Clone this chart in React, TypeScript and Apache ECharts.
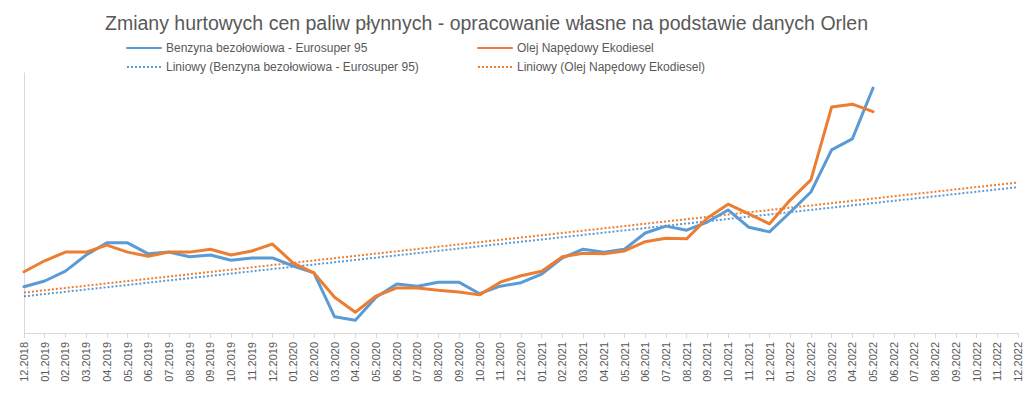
import React, { useEffect, useRef } from "react";
import * as echarts from "echarts";

const categories = [
  "12.2018", "01.2019", "02.2019", "03.2019", "04.2019", "05.2019", "06.2019", "07.2019",
  "08.2019", "09.2019", "10.2019", "11.2019", "12.2019", "01.2020", "02.2020", "03.2020",
  "04.2020", "05.2020", "06.2020", "07.2020", "08.2020", "09.2020", "10.2020", "11.2020",
  "12.2020", "01.2021", "02.2021", "03.2021", "04.2021", "05.2021", "06.2021", "07.2021",
  "08.2021", "09.2021", "10.2021", "11.2021", "12.2021", "01.2022", "02.2022", "03.2022",
  "04.2022", "05.2022", "06.2022", "07.2022", "08.2022", "09.2022", "10.2022", "11.2022",
  "12.2022",
];

const benzyna = [
  3300, 3400, 3570, 3850, 4060, 4060, 3870, 3900, 3820, 3850, 3760, 3800, 3800, 3660,
  3540, 2780, 2720, 3120, 3350, 3310, 3380, 3380, 3180, 3310, 3370, 3520, 3800, 3950,
  3900, 3950, 4230, 4350, 4280, 4420, 4630, 4330, 4250, 4590, 4940, 5670, 5860, 6740,
];

const olej = [
  3560, 3750, 3900, 3900, 4020, 3900, 3830, 3900, 3900, 3950, 3850, 3920, 4040, 3710,
  3540, 3120, 2860, 3140, 3280, 3280, 3240, 3210, 3160, 3380, 3490, 3570, 3820, 3880,
  3870, 3920, 4080, 4140, 4130, 4490, 4730, 4560, 4390, 4800, 5150, 6410, 6460, 6330,
];

const seriesNames = [
  "Benzyna bezołowiowa - Eurosuper 95",
  "Olej Napędowy Ekodiesel",
  "Liniowy (Benzyna bezołowiowa - Eurosuper 95)",
  "Liniowy (Olej Napędowy Ekodiesel)",
];

const titleText =
  "Zmiany hurtowych cen paliw płynnych - opracowanie własne na podstawie danych Orlen";

// Linear (least squares) trendline as Excel computes it, over all category positions
function linearTrend(values: number[], length: number): number[] {
  const n = values.length;
  let sx = 0, sy = 0, sxx = 0, sxy = 0;
  values.forEach((v, i) => {
    sx += i; sy += v; sxx += i * i; sxy += i * v;
  });
  const slope = (n * sxy - sx * sy) / (n * sxx - sx * sx);
  const intercept = (sy - slope * sx) / n;
  return Array.from({ length }, (_, i) => +(intercept + slope * i).toFixed(2));
}

const BLUE = "#5B9BD5";
const ORANGE = "#ED7D31";
const TEXT = "#595959";
const AXIS = "#D9D9D9";
const FONT = "'Liberation Sans', Arial, sans-serif";

export default function App() {
  const ref = useRef<HTMLDivElement>(null);

  useEffect(() => {
    if (!ref.current) return;
    const chart = echarts.init(ref.current, undefined, { renderer: "svg" });
    const trendB = linearTrend(benzyna, categories.length);
    const trendO = linearTrend(olej, categories.length);

    const legendBase = {
      orient: "horizontal" as const,
      itemWidth: 34,
      itemHeight: 12,
      itemStyle: { color: "rgba(0,0,0,0)", borderWidth: 0, borderColor: "rgba(0,0,0,0)" },
      textStyle: { color: TEXT, fontSize: 12, fontFamily: FONT },
    };

    chart.setOption({
      animation: false,
      backgroundColor: "#ffffff",
      title: {
        text: titleText,
        left: 100,
        top: 8,
        textStyle: { color: TEXT, fontSize: 19.5, fontWeight: "normal", fontFamily: FONT },
      },
      legend: [
        { ...legendBase, data: [seriesNames[0]], left: 121, top: 37 },
        { ...legendBase, data: [seriesNames[1]], left: 472, top: 37 },
        { ...legendBase, data: [seriesNames[2]], left: 121, top: 56 },
        { ...legendBase, data: [seriesNames[3]], left: 472, top: 56 },
      ],
      grid: { left: 24, right: 15, top: 73, bottom: 65, containLabel: false },
      xAxis: {
        type: "category",
        data: categories,
        boundaryGap: false,
        axisLine: { lineStyle: { color: AXIS, width: 1 } },
        axisTick: { show: true, length: 5, lineStyle: { color: AXIS } },
        axisLabel: {
          rotate: 90,
          interval: 0,
          margin: 9,
          color: TEXT,
          fontSize: 11,
          fontFamily: FONT,
        },
      },
      yAxis: {
        type: "value",
        min: 2500,
        max: 7000,
        axisLine: { show: true, lineStyle: { color: AXIS, width: 1 } },
        axisTick: { show: false },
        axisLabel: { show: false },
        splitLine: { show: false },
      },
      series: [
        {
          name: seriesNames[2],
          type: "line",
          data: trendB,
          symbol: "none",
          lineStyle: { color: BLUE, width: 2, type: "dotted" },
          itemStyle: { color: BLUE },
          z: 1,
        },
        {
          name: seriesNames[3],
          type: "line",
          data: trendO,
          symbol: "none",
          lineStyle: { color: ORANGE, width: 2, type: "dotted" },
          itemStyle: { color: ORANGE },
          z: 1,
        },
        {
          name: seriesNames[0],
          type: "line",
          data: benzyna,
          symbol: "none",
          lineStyle: { color: BLUE, width: 3, join: "round", cap: "round" },
          itemStyle: { color: BLUE },
          z: 3,
        },
        {
          name: seriesNames[1],
          type: "line",
          data: olej,
          symbol: "none",
          lineStyle: { color: ORANGE, width: 3, join: "round", cap: "round" },
          itemStyle: { color: ORANGE },
          z: 3,
        },
      ],
    });

    return () => chart.dispose();
  }, []);

  return (
    <div
      ref={ref}
      style={{ position: "fixed", left: 0, top: 0, width: 1033, height: 398, background: "#fff" }}
    />
  );
}
